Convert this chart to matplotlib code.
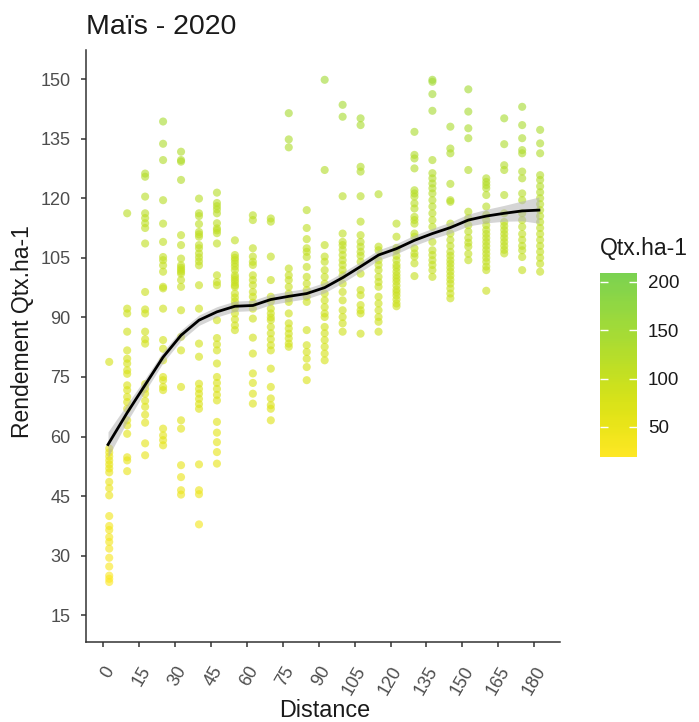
import numpy as np
import matplotlib
matplotlib.use("Agg")
import matplotlib.pyplot as plt
from matplotlib.colors import LinearSegmentedColormap, Normalize
from matplotlib.cm import ScalarMappable

plt.rcParams['font.family'] = ['Liberation Sans', 'DejaVu Sans']

# Sampling distances (m) and yields (Qtx.ha-1) observed at each distance
distances = [2.5, 10, 17.5, 25, 32.5, 40, 47.5, 55, 62.5, 70, 77.5, 85, 92.5,
             100, 107.5, 115, 122.5, 130, 137.5, 145, 152.5, 160, 167.5, 175, 182.5]

y_d002 = [78.8, 57, 56, 55, 54, 53, 52, 51, 48.6, 47, 45.2, 40, 37.5, 36.5, 34.7,
          33.5, 31.8, 29.5, 27.3, 25, 24.2, 23.4]
y_d010 = [116.2, 92.2, 91, 86.4, 81.7, 79.6, 78.4, 76.7, 75.8, 72.9, 71.7, 70, 68.7,
          67, 64.1, 62.8, 60.7, 54.8, 54, 51.3]
y_d017 = [126.2, 125.4, 120.4, 116.2, 115, 113.7, 112.5, 108.6, 96.4, 92, 91, 86.4,
          84.5, 83.4, 73.2, 72, 70.8, 69, 67.5, 65.5, 63.5, 58.3, 55.3]
y_d025 = [139.3, 133.7, 129.6, 119.5, 113.6, 109, 105.2, 104.4, 103.1, 101.5, 97.7,
          97.3, 92.2, 84.3, 82.1, 79.2, 75, 74.2, 72.5, 71.7, 62, 60.3, 59.1, 57.8]
y_d032 = [131.7, 129.6, 129.2, 124.6, 110.7, 108.2, 104.8, 103.1, 102.5, 102, 101.5,
          101, 99.4, 97.7, 91.8, 85.1, 81.7, 72.5, 64.1, 62, 52.8, 49.8, 46.5, 45.4]
y_d040 = [119.9, 116.2, 115.5, 113.5, 111.5, 110.9, 110.3, 108.2, 107.4, 106.1, 105.1,
          104.1, 103.1, 98.1, 92.2, 83.4, 80.1, 73.3, 72, 70.8, 69.5, 68.2, 67, 53,
          46.5, 45.5, 37.9]
y_d047 = [121.4, 118.8, 118, 117.2, 116.2, 113.7, 112.4, 111.9, 111.2, 108.6, 100.6,
          98.9, 98.1, 89.3, 84.8, 83.2, 81.7, 78.4, 75, 73.5, 72, 70.5, 69.1, 63.7, 61,
          58.6, 56.1, 53.2]
y_d055 = [109.4, 105.7, 105, 104.4, 103.6, 102.8, 101.9, 100.6, 100, 99.4, 98.8, 98.1,
          97.7, 96, 95, 94, 93.1, 92.3, 91, 89.5, 88, 86.8]
y_d062 = [115.7, 114.5, 107.4, 105.3, 104, 103.2, 100.6, 99.4, 98.1, 96.4, 95.2, 93.7,
          92.2, 89.7, 84.9, 80.9, 75.9, 73.5, 70.8, 68.3]
y_d070 = [114.9, 114.1, 105.3, 99.4, 95.2, 94, 92.2, 91, 90, 89.3, 87.6, 86, 84.5, 83,
          81.7, 77.1, 72.5, 69.6, 67.9, 67, 64.1]
y_d077 = [141.4, 134.8, 132.8, 102.3, 100.6, 99.4, 97.7, 96, 94.8, 93.9, 91, 88.5,
          87.2, 85.9, 84.7, 83.4, 82.6]
y_d085 = [117, 112.5, 109.7, 107.4, 106.5, 105.2, 102.7, 100.2, 98.5, 96.9, 95.2, 93.9,
          86.8, 83, 81.3, 79.6, 77.5, 74.2]
y_d092 = [149.8, 127.1, 108.2, 105.3, 104, 101.9, 100.2, 98.5, 96, 94.3, 92.6, 91,
          90.1, 87.6, 86, 84.3, 82.6, 80.9, 79.2]
y_d100 = [143.5, 140.5, 120.5, 111.1, 109, 108.2, 107, 105.7, 104.4, 103.2, 101.9,
          100.6, 98.5, 96.4, 94.3, 91.8, 90.1, 88.5, 86.4]
y_d107 = [140.1, 138.4, 127.9, 126.7, 120.5, 114.1, 110.7, 109, 107.8, 106.5, 105.5,
          104, 101, 96.9, 95.6, 93.1, 91.8, 91, 85.9]
y_d115 = [121, 107.8, 106.9, 104.4, 103.2, 101.9, 100.2, 98.9, 97.7, 95.2, 93.5, 91.8,
          90.1, 88.9, 86.4]
y_d122 = [113.6, 110.3, 107.5, 106.9, 105.5, 104.4, 103.2, 102.5, 101.5, 100.6, 99.8,
          99, 98, 97, 96.3, 95.5, 94.5, 93.5, 92.8]
y_d130 = [136.7, 130.9, 130, 127.5, 122, 121.2, 120.4, 118.7, 117.4, 115.3, 114.5,
          113.6, 111.1, 110.3, 107.4, 106.1, 105.3, 103.6, 100.4]
y_d137 = [149.8, 149.3, 146.2, 142, 129.6, 126.3, 125, 123.7, 122.5, 121.2, 119.5,
          117.9, 116.2, 114.5, 112.8, 109, 106.9, 105.7, 104.4, 103.2, 101.9, 100.2]
y_d145 = [138, 132.5, 131.3, 123.6, 119.5, 119.1, 113.6, 111.1, 109.5, 108, 106.5,
          105.5, 104.4, 103.5, 102.5, 101.5, 100.5, 99.5, 98.5, 97.3, 96, 94.8]
y_d152 = [147.4, 141.8, 137.6, 135.1, 127.1, 116.6, 115, 113.2, 111.6, 110, 108.8,
          107.8, 106, 104.4]
y_d160 = [125, 124.1, 123.3, 122.5, 120.8, 117.9, 115.8, 114.5, 113.2, 112, 111, 110,
          109, 108, 107, 106, 105, 104, 102.8, 101.9, 96.7]
y_d167 = [140.1, 133.6, 128.3, 127.1, 120.8, 116.2, 114, 113, 112, 111, 110, 109, 108,
          107, 106.1]
y_d175 = [143, 138.4, 135.1, 132.1, 131.3, 126.7, 125, 121.2, 119.5, 116.2, 114.5,
          112.8, 111, 109.5, 108, 106.9, 105.2, 101.9]
y_d182 = [137.2, 133.8, 131.3, 125.8, 124.6, 123, 121.5, 120, 118.5, 117, 115.5, 114,
          112.5, 111, 109.5, 108, 106.5, 105, 103.5, 101.5]

yields = [y_d002, y_d010, y_d017, y_d025, y_d032, y_d040, y_d047, y_d055, y_d062,
          y_d070, y_d077, y_d085, y_d092, y_d100, y_d107, y_d115, y_d122, y_d130,
          y_d137, y_d145, y_d152, y_d160, y_d167, y_d175, y_d182]

# Smoothed trend (loess fit) and its confidence half-width
smooth_x = [2, 10, 17.5, 25, 32.5, 40, 47.5, 55, 62.5, 70, 77.5, 85, 92.5, 100,
            107.5, 115, 122.5, 130, 137.5, 145, 152.5, 160, 167.5, 175, 182]
smooth_y = [58, 66, 73, 80, 85.5, 89.3, 91.4, 92.8, 93, 94.5, 95.3, 96, 97.5, 100,
            102.8, 105.7, 107.3, 109.4, 111.1, 112.6, 114.5, 115.5, 116.2, 116.8, 117]
smooth_se = [3.2, 2.2, 1.6, 1.4, 1.3, 1.3, 1.3, 1.3, 1.3, 1.3, 1.3, 1.3, 1.3, 1.3,
             1.3, 1.3, 1.3, 1.3, 1.3, 1.4, 1.5, 1.7, 2.0, 2.5, 3.3]

color_limits = (19, 209)
x_ticks = list(range(0, 181, 15))
y_ticks = list(range(15, 151, 15))

# Colour scale: upper part of viridis, yellow for low yields
cmap = LinearSegmentedColormap.from_list(
    "yg", [plt.get_cmap("viridis")(v) for v in np.linspace(1.0, 0.8, 32)])
norm = Normalize(*color_limits)

W, H = 699, 722
fig = plt.figure(figsize=(W / 100, H / 100), dpi=100)
ax = fig.add_axes([86 / W, 1 - 642 / H, (560 - 86) / W, (642 - 50) / H])

xs = np.concatenate([np.full(len(v), d) for d, v in zip(distances, yields)])
ys = np.concatenate([np.asarray(v, float) for v in yields])
ax.scatter(xs, ys, c=ys, cmap=cmap, norm=norm, s=34, alpha=0.62,
           linewidths=0, zorder=2)

sx = np.asarray(smooth_x)
sy = np.asarray(smooth_y)
se = np.asarray(smooth_se)
ax.fill_between(sx, sy - se, sy + se, color="#b3b3b3", alpha=0.55, lw=0, zorder=3)
ax.plot(sx, sy, color="black", lw=2, zorder=4)

ax.set_xlim(-7.2, 190.8)
ax.set_ylim(8.3, 157.3)
ax.set_xticks(x_ticks)
ax.set_yticks(y_ticks)
ax.set_xticklabels([str(t) for t in x_ticks], rotation=60, ha="right",
                   rotation_mode="anchor")
for s in ["top", "right"]:
    ax.spines[s].set_visible(False)
for s in ["left", "bottom"]:
    ax.spines[s].set_color("#333333")
    ax.spines[s].set_linewidth(1.1)
ax.tick_params(axis="both", length=3.3, width=1.1, color="#333333",
               labelcolor="#4d4d4d", labelsize=13)
ax.tick_params(axis="y", pad=8)
ax.tick_params(axis="x", pad=12)
ax.set_xlabel("Distance", fontsize=16.8, color="#1a1a1a")
ax.set_ylabel("Rendement Qtx.ha-1", fontsize=16.5, color="#1a1a1a")
ax.xaxis.label.set_va("baseline")
ax.yaxis.label.set_va("center")
ax.xaxis.set_label_coords((325 - 86) / 474, (642 - 717) / 592)
ax.yaxis.set_label_coords((22 - 86) / 474, (642 - 332) / 592)

fig.text(86 / W, 1 - 34 / H, "Maïs - 2020", fontsize=20.5, ha="left",
         va="baseline", color="#1a1a1a")

# Colour bar legend
cax = fig.add_axes([600 / W, 1 - 457 / H, 37 / W, 184 / H])
cb = fig.colorbar(ScalarMappable(norm=norm, cmap=cmap), cax=cax,
                  ticks=[50, 100, 150, 200])
cb.outline.set_visible(False)
cax.yaxis.set_ticks_position("both")
cax.tick_params(direction="in", length=5.5, width=1, color="white",
                labelcolor="#1a1a1a", labelsize=13.5, pad=8)
cax.yaxis.set_tick_params(labelleft=False, labelright=True)
fig.text(600 / W, 1 - 255 / H, "Qtx.ha-1", fontsize=16.5, ha="left",
         va="baseline", color="#1a1a1a")

fig.savefig("out.png", dpi=100)
